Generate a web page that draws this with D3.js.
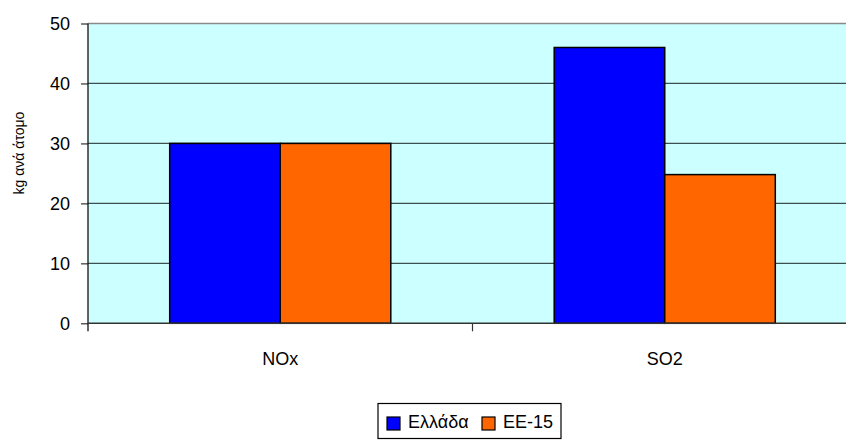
<!DOCTYPE html>
<html>
<head>
<meta charset="utf-8">
<script src="https://cdn.jsdelivr.net/npm/d3@7"></script>
<style>
  html, body { margin: 0; padding: 0; background: #fff; }
  svg { display: block; font-family: "Liberation Sans", Arial, sans-serif; }
</style>
</head>
<body>
<svg id="chart" width="846" height="441"></svg>
<script>
// Emissions per person, kg
const categories = ["NOx", "SO2"];
const seriesNames = ["Ελλάδα", "ΕΕ-15"];
const greece = [30, 46];
const eu15 = [30, 24.8];
const yTicks = [0, 10, 20, 30, 40, 50];
const colors = ["#0000FF", "#FF6600"];

const seriesValues = [greece, eu15];

const svg = d3.select("#chart");
const plot = { left: 88, right: 857, top: 23.5, bottom: 323.3 };

const x = d3.scaleBand().domain(categories)
  .range([plot.left, plot.right]).paddingInner(0.425).paddingOuter(0.2125);
const xSub = d3.scaleBand().domain(seriesNames).range([0, x.bandwidth()]);
const y = d3.scaleLinear().domain([0, 50]).range([plot.bottom, plot.top]);

// Plot background
svg.append("rect")
  .attr("x", plot.left).attr("y", plot.top)
  .attr("width", plot.right - plot.left).attr("height", plot.bottom - plot.top)
  .attr("fill", "#CCFFFF");

// Top border of the plot area
svg.append("line")
  .attr("x1", plot.left).attr("x2", plot.right)
  .attr("y1", plot.top).attr("y2", plot.top)
  .attr("stroke", "#8a8a8a").attr("stroke-width", 1.5);

// Horizontal gridlines
svg.append("g").selectAll("line")
  .data(yTicks.filter(d => d > 0 && d < 50))
  .join("line")
  .attr("x1", plot.left).attr("x2", plot.right)
  .attr("y1", d => y(d)).attr("y2", d => y(d))
  .attr("stroke", "#3f4f4f").attr("stroke-width", 1.3);

// Bars
const groups = svg.append("g").selectAll("g")
  .data(categories)
  .join("g")
  .attr("transform", d => `translate(${x(d)},0)`);

groups.selectAll("rect")
  .data((c, i) => seriesNames.map((s, j) => ({ s, v: seriesValues[j][i], j })))
  .join("rect")
  .attr("x", d => xSub(d.s))
  .attr("y", d => y(d.v))
  .attr("width", xSub.bandwidth())
  .attr("height", d => y(0) - y(d.v))
  .attr("fill", d => colors[d.j])
  .attr("stroke", "#000").attr("stroke-width", 1.5);

// Y axis
const yAxis = d3.axisLeft(y).tickValues(yTicks).tickSize(7).tickPadding(11).tickFormat(d3.format("d"));
const gy = svg.append("g").attr("transform", `translate(${plot.left},0)`).call(yAxis);
gy.select(".domain").remove();
gy.selectAll(".tick line").attr("stroke", "#333").attr("stroke-width", 1.2);
gy.selectAll(".tick text").attr("font-size", 18).attr("fill", "#000")
  .attr("font-family", "'Liberation Sans', Arial, sans-serif");
svg.append("line")
  .attr("x1", plot.left).attr("x2", plot.left)
  .attr("y1", plot.top).attr("y2", plot.bottom + 8)
  .attr("stroke", "#111").attr("stroke-width", 1.3);

// X axis baseline and category ticks at band boundaries
svg.append("line")
  .attr("x1", plot.left).attr("x2", plot.right)
  .attr("y1", plot.bottom).attr("y2", plot.bottom)
  .attr("stroke", "#333").attr("stroke-width", 1.5);
const boundaries = [plot.left, (x(categories[0]) + x.bandwidth() + x(categories[1])) / 2, plot.right];
svg.append("g").selectAll("line")
  .data(boundaries.slice(1))
  .join("line")
  .attr("x1", d => d).attr("x2", d => d)
  .attr("y1", plot.bottom).attr("y2", plot.bottom + 8)
  .attr("stroke", "#333").attr("stroke-width", 1.2);

// Category labels
svg.append("g").selectAll("text")
  .data(categories)
  .join("text")
  .attr("x", d => x(d) + x.bandwidth() / 2)
  .attr("y", 365)
  .attr("text-anchor", "middle")
  .attr("font-size", 18)
  .attr("fill", "#000")
  .text(d => d);

// Y axis title
svg.append("text")
  .attr("transform", "translate(24,153) rotate(-90)")
  .attr("text-anchor", "middle")
  .attr("font-size", 14)
  .attr("fill", "#000")
  .text("kg ανά άτομο");

// Legend
const legend = svg.append("g");
legend.append("rect")
  .attr("x", 378).attr("y", 403.5).attr("width", 183).attr("height", 35)
  .attr("fill", "#fff").attr("stroke", "#000").attr("stroke-width", 1.2);
const legendX = [387, 482];
seriesNames.forEach((s, i) => {
  legend.append("rect")
    .attr("x", legendX[i]).attr("y", 417)
    .attr("width", 13).attr("height", 13)
    .attr("fill", colors[i]).attr("stroke", "#000").attr("stroke-width", 1.2);
  legend.append("text")
    .attr("x", legendX[i] + 21).attr("y", 428)
    .attr("font-size", 18).attr("fill", "#000")
    .text(s);
});
</script>
</body>
</html>
